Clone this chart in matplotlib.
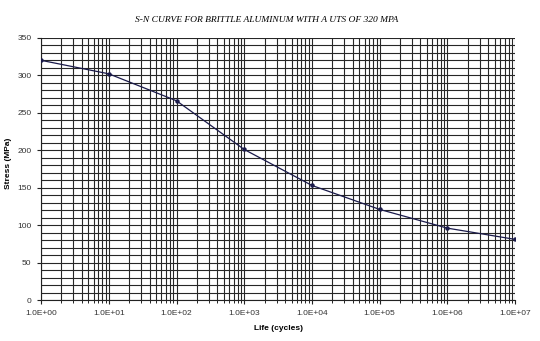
import matplotlib
import numpy as np

matplotlib.use("Agg")
import matplotlib.pyplot as plt
from matplotlib.ticker import FixedLocator, FuncFormatter, MultipleLocator, NullFormatter

# S-N data
life_cycles = [1e0, 1e1, 1e2, 1e3, 1e4, 1e5, 1e6, 1e7]
stress_mpa = [320, 302, 266, 201, 153, 121, 96, 81]

TITLE = "S-N CURVE FOR BRITTLE ALUMINUM WITH A UTS OF 320 MPA"

fig = plt.figure(figsize=(5.4, 3.41), dpi=100)
ax = fig.add_axes([0.076, 0.120, 0.878, 0.769])

ax.set_xscale("log")
ax.set_xlim(1e0, 1e7)
ax.set_ylim(0, 350)

ax.plot(life_cycles, stress_mpa, color="#1a1a4a", linewidth=0.9,
        marker="o", markersize=2.2, zorder=3)

decades = [10.0 ** k for k in range(8)]
minors = [m * 10.0 ** k for k in range(7) for m in range(2, 10)]
ax.xaxis.set_major_locator(FixedLocator(decades))
ax.xaxis.set_minor_locator(FixedLocator(minors))
ax.xaxis.set_major_formatter(FuncFormatter(lambda v, p: f"{v:.1E}"))
ax.xaxis.set_minor_formatter(NullFormatter())
ax.yaxis.set_major_locator(MultipleLocator(50))
ax.yaxis.set_minor_locator(MultipleLocator(10))

ax.grid(which="both", color="#262626", linewidth=0.8)
ax.set_axisbelow(True)

ax.tick_params(axis="both", which="major", labelsize=6, length=3, width=0.8,
               colors="#222222", labelcolor="#333333", pad=4)
ax.tick_params(axis="x", which="minor", length=2, width=0.6)
ax.tick_params(axis="y", which="minor", length=0)
for lbl in ax.get_xticklabels() + ax.get_yticklabels():
    lbl.set_family("Liberation Sans")

for side in ["top", "right"]:
    ax.spines[side].set_visible(False)
for side in ["left", "bottom"]:
    ax.spines[side].set_color("#222222")
    ax.spines[side].set_linewidth(0.8)

ax.set_xlabel("Life (cycles)", fontsize=6, fontweight="bold",
              family="Liberation Sans", labelpad=6)
ax.set_ylabel("Stress (MPa)", fontsize=6, fontweight="bold",
              family="Liberation Sans")
ax.yaxis.set_label_coords(-0.062, 0.52)
fig.text(0.493, 0.941, TITLE, ha="center", va="center", fontsize=6.8,
         style="italic", family="Liberation Serif")

fig.savefig("out.png", dpi=100)
